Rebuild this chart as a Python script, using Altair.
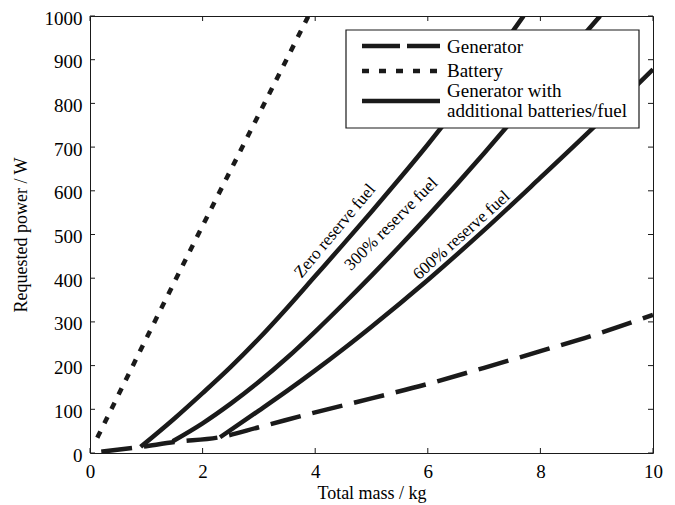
import altair as alt
import pandas as pd

# ---- data ----
gen_x = [0.2, 0.9, 1.5, 2.3, 3, 4, 5, 6, 7, 8, 9, 10]
gen_y = [3, 14, 25, 36, 59, 93, 125, 158, 195, 233, 272, 316]

batt_x = [0.13, 1, 2, 3, 3.88]
batt_y = [35, 262, 520, 775, 1000]

zero_x = [0.9, 1.5, 2, 2.5, 3, 3.5, 4, 4.5, 5, 5.5, 6, 6.5, 7, 7.7]
zero_y = [14, 79, 137, 197, 262, 332, 405, 478, 552, 628, 706, 788, 874, 1000]

p300_x = [1.47, 2, 2.5, 3, 3.5, 4, 4.5, 5, 5.5, 6, 6.5, 7, 7.5, 8, 8.5, 9.06]
p300_y = [27, 68, 113, 163, 218, 278, 341, 406, 473, 542, 613, 686, 761, 838, 916, 1000]

p600_x = [2.31, 3, 3.5, 4, 4.5, 5, 6, 7, 8, 9, 10]
p600_y = [36, 97, 142, 189, 238, 289, 396, 510, 630, 752, 878]

x_ticks = [0, 2, 4, 6, 8, 10]
y_ticks = [0, 100, 200, 300, 400, 500, 600, 700, 800, 900, 1000]

curve_labels = ["Zero reserve fuel", "300% reserve fuel", "600% reserve fuel"]
label_x = [4.35, 5.35, 6.6]
label_y = [508, 524, 498]
label_angle = [310, 315, 318]

legend_names = ["Generator", "Battery", "Generator with", "additional batteries/fuel"]

# ---- styling ----
INK = "#1a1a1a"
FONT = "Liberation Serif"
W, H = 563, 437

xs = alt.Scale(domain=[0, 10], nice=False, zero=False)
ys = alt.Scale(domain=[0, 1000], nice=False)

xaxis = alt.Axis(values=x_ticks, title="Total mass / kg", ticks=False, domain=False,
                 grid=False, labelPadding=9, titlePadding=3, labelFontSize=19,
                 titleFontSize=18, labelFont=FONT, titleFont=FONT, format="d",
                 labelFlush=False, labelColor="black", titleColor="black",
                 titleFontWeight="normal")
yaxis = alt.Axis(values=y_ticks, title="Requested power / W", ticks=False, domain=False,
                 grid=False, labelPadding=8, titlePadding=14, labelFontSize=19,
                 titleFontSize=18, labelFont=FONT, titleFont=FONT, format="d",
                 labelFlush=False, labelOffset=2, labelColor="black",
                 titleColor="black", titleFontWeight="normal")


def X(field):
    return alt.X(f"{field}:Q", scale=xs, axis=xaxis)


def Y(field):
    return alt.Y(f"{field}:Q", scale=ys, axis=yaxis)


def curve(xv, yv, dash=None):
    df = pd.DataFrame({"mass": xv, "power": yv})
    kw = dict(color=INK, strokeWidth=4.5, clip=True, interpolate="monotone")
    if dash is not None:
        kw["strokeDash"] = dash
    return alt.Chart(df).mark_line(**kw).encode(x=X("mass"), y=Y("power"))


layers = [
    curve(gen_x, gen_y, [31, 12]),
    curve(batt_x, batt_y, [7, 9]),
    curve(zero_x, zero_y),
    curve(p300_x, p300_y),
    curve(p600_x, p600_y),
]

# curve annotations
for t, lx, ly, ang in zip(curve_labels, label_x, label_y, label_angle):
    layers.append(
        alt.Chart(pd.DataFrame({"mass": [lx], "power": [ly], "t": [t]}))
        .mark_text(font=FONT, fontSize=17, color="black", angle=ang, align="center",
                   baseline="middle")
        .encode(x=X("mass"), y=Y("power"), text="t:N")
    )

# inward ticks on all four sides
xt = pd.DataFrame({"tx": x_ticks})
yt = pd.DataFrame({"ty": y_ticks})
layers += [
    alt.Chart(xt).mark_rule(color=INK, strokeWidth=1).encode(
        x=X("tx"), y=alt.value(H), y2=alt.value(H - 5)),
    alt.Chart(xt).mark_rule(color=INK, strokeWidth=1).encode(
        x=X("tx"), y=alt.value(0), y2=alt.value(5)),
    alt.Chart(yt).mark_rule(color=INK, strokeWidth=1).encode(
        y=Y("ty"), x=alt.value(0), x2=alt.value(5)),
    alt.Chart(yt).mark_rule(color=INK, strokeWidth=1).encode(
        y=Y("ty"), x=alt.value(W - 5), x2=alt.value(W)),
]

# legend box
one = pd.DataFrame({"k": [0]})
layers.append(
    alt.Chart(one).mark_rect(fill="white", stroke=INK, strokeWidth=1.2).encode(
        x=alt.value(256), x2=alt.value(549), y=alt.value(14), y2=alt.value(112))
)
legend_rows = [(30, [38, 7]), (55, [7, 10]), (85, None)]
for yy, dash in legend_rows:
    kw = dict(color=INK, strokeWidth=4.5)
    if dash is not None:
        kw["strokeDash"] = dash
    layers.append(
        alt.Chart(one).mark_rule(**kw).encode(
            x=alt.value(272), x2=alt.value(350), y=alt.value(yy))
    )
for name, yy in zip(legend_names, [31, 55, 75, 95]):
    layers.append(
        alt.Chart(pd.DataFrame({"t": [name]})).mark_text(
            font=FONT, fontSize=19, color="black", align="left", baseline="middle"
        ).encode(x=alt.value(357), y=alt.value(yy), text="t:N")
    )

chart = (
    alt.layer(*layers)
    .properties(width=W, height=H,
                autosize=alt.AutoSizeParams(type="none"),
                padding={"left": 82, "top": 8, "right": 14, "bottom": 50})
    .configure(background="white", font=FONT)
    .configure_view(stroke=INK, strokeWidth=1)
    .configure_axis(labelFont=FONT, titleFont=FONT)
    .configure_text(font=FONT)
)

chart.save("out.html", embed_options={"renderer": "svg", "actions": False})
